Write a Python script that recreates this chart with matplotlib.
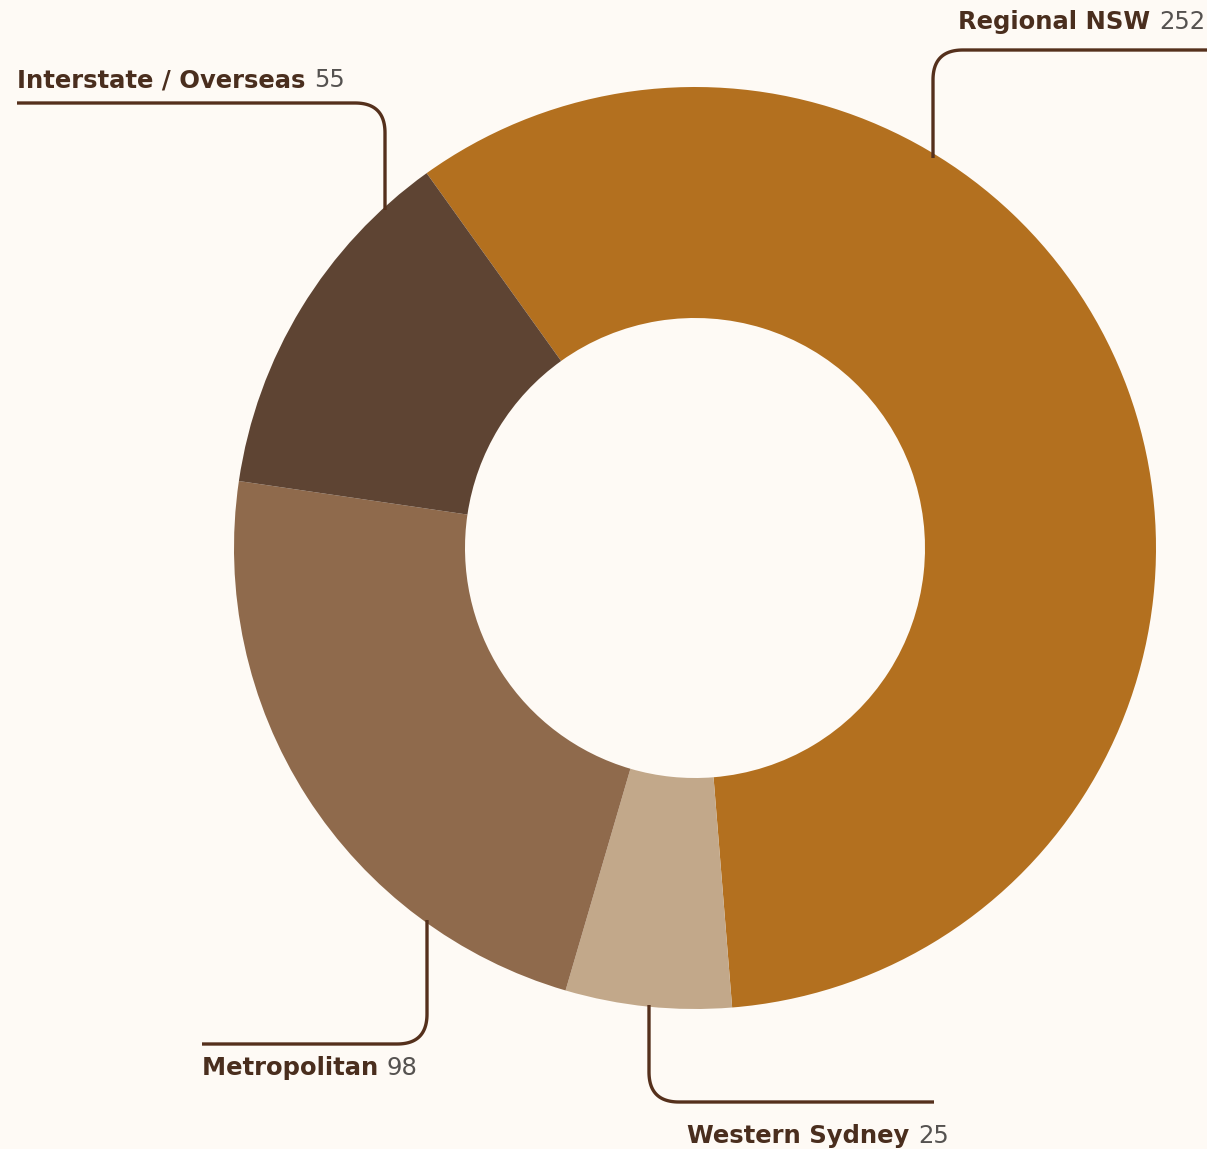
import numpy as np
import matplotlib
matplotlib.use("Agg")
import matplotlib.pyplot as plt
from matplotlib import font_manager

# ── Data ─────────────────────────────────────────────
regions = ["Regional NSW", "Western Sydney", "Metropolitan", "Interstate / Overseas"]
counts = [252, 25, 98, 55]
colors = ["#B3701F", "#C2A88A", "#8F6A4C", "#5E4433"]

BG = "#FEFAF5"
LINE = "#55301C"
NAME_C = "#4A2E1E"
VAL_C = "#555250"

names = {f.name for f in font_manager.fontManager.ttflist}
FONT = "Liberation Sans Narrow" if "Liberation Sans Narrow" in names else "DejaVu Sans"
plt.rcParams["font.family"] = [FONT, "DejaVu Sans"]

W, H = 1207, 1149
fig = plt.figure(figsize=(W / 100, H / 100), dpi=100, facecolor=BG)
ax = fig.add_axes([0, 0, 1, 1])
ax.set_facecolor(BG)

cx, cy = 695, H - 548
R = 461
ax.pie(counts, colors=colors, startangle=125.6, counterclock=False,
       center=(cx, cy), radius=R,
       wedgeprops=dict(width=231, linewidth=0))
ax.set_xlim(0, W)
ax.set_ylim(0, H)
ax.set_aspect("equal")
ax.axis("off")


def leader(pts, r=30):
    """Polyline through pts with rounded corners of radius r (pixel coords, y down)."""
    pts = [np.array([x, H - y], float) for x, y in pts]
    out = [pts[0]]
    for i in range(1, len(pts) - 1):
        p0, p1, p2 = pts[i - 1], pts[i], pts[i + 1]
        d1 = (p1 - p0) / np.linalg.norm(p1 - p0)
        d2 = (p2 - p1) / np.linalg.norm(p2 - p1)
        a = p1 - d1 * r
        b = p1 + d2 * r
        t = np.linspace(0, 1, 30)[:, None]
        # quadratic bezier for the round corner
        curve = (1 - t) ** 2 * a + 2 * (1 - t) * t * p1 + t ** 2 * b
        out.extend(curve)
    out.append(pts[-1])
    out = np.array(out)
    ax.plot(out[:, 0], out[:, 1], color=LINE, lw=2.4, solid_capstyle="butt",
            solid_joinstyle="round")


def label(x, y, name, value, ha="left", size=17.5):
    yy = H - y
    if ha == "left":
        t = ax.text(x, yy, name + " ", color=NAME_C, fontsize=size,
                    fontweight="bold", va="center", ha="left")
        ax.annotate(str(value), xycoords=t, xy=(1, 0.5), va="center",
                    ha="left", color=VAL_C, fontsize=size)
    else:
        t = ax.text(x, yy, str(value), color=VAL_C, fontsize=size,
                    va="center", ha="right")
        ax.annotate(name + " ", xycoords=t, xy=(0, 0.5), va="center",
                    ha="right", color=NAME_C, fontsize=size, fontweight="bold")


# Regional NSW
leader([(933, 158), (933, 50), (1207, 50)])
label(1205, 22, regions[0], counts[0], ha="right")

# Interstate / Overseas
leader([(17, 103), (385, 103), (385, 210)])
label(17, 80, regions[3], counts[3])

# Metropolitan
leader([(427, 920), (427, 1044), (202, 1044)])
label(202, 1068, regions[2], counts[2])

# Western Sydney
leader([(649, 1005), (649, 1102), (934, 1102)])
label(687, 1136, regions[1], counts[1])

fig.savefig("out.png", dpi=100, facecolor=BG)
